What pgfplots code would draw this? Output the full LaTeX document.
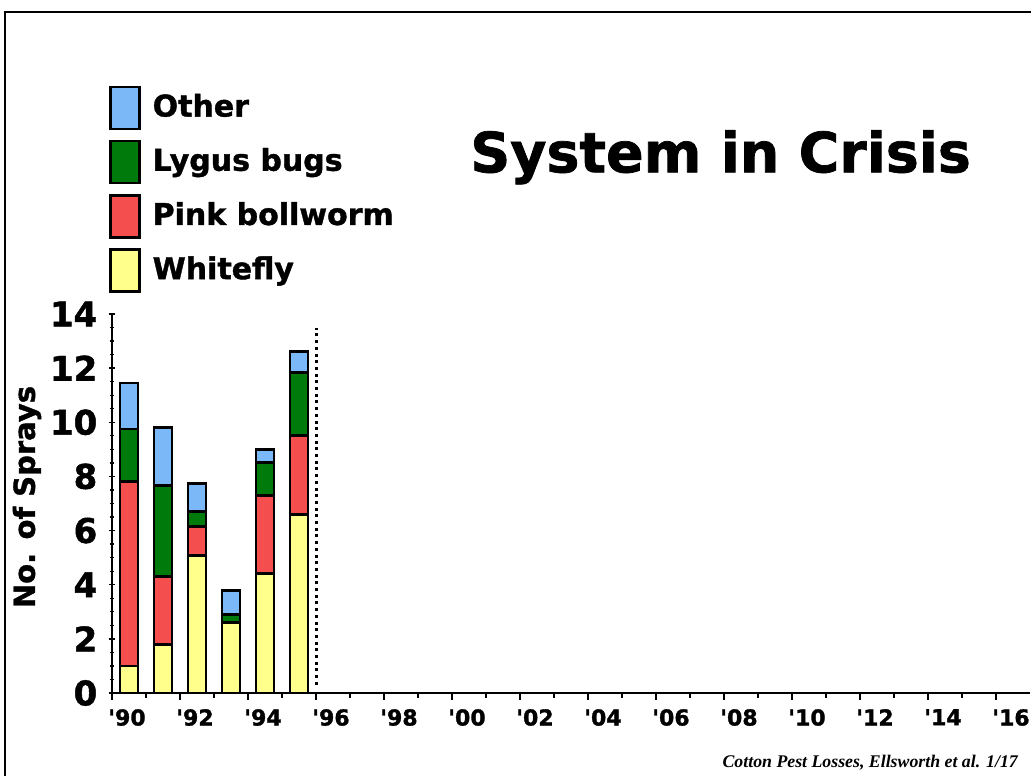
\documentclass[border=0pt]{standalone}
\usepackage{pgfplots}
\pgfplotsset{compat=1.18}
\usepackage{fontspec}
\setmainfont{DejaVu Sans}[BoldFeatures={FakeBold=1.3}]
\newfontfamily\footfont{Liberation Serif}
\definecolor{cother}{RGB}{122,184,248}
\definecolor{clygus}{RGB}{0,122,10}
\definecolor{cpink}{RGB}{244,78,78}
\definecolor{cwhite}{RGB}{255,255,140}
\pgfplotsset{
  legimg/.style={legend image code/.code={\draw[##1, line width=2.5pt, draw=black] (0pt,-23pt) rectangle (29pt,19pt);}},
}
\begin{document}
\begin{tikzpicture}[x=1pt,y=1pt]
\useasboundingbox (0,0) rectangle (1031,776);
\draw[line width=2pt] (1035,764) -- (5,764) -- (5,-5);
\begin{axis}[
  at={(112pt,83pt)}, anchor=south west,
  scale only axis, width=918pt, height=379pt,
  xmin=1990, xmax=2017, ymin=0, ymax=14,
  axis lines*=left, axis line style={line width=2.6pt},
  ybar stacked, bar width=18pt,
  xtick={1990,1992,...,2016},
  xticklabels={\textquotesingle 90,\textquotesingle 92,\textquotesingle 94,\textquotesingle 96,\textquotesingle 98,\textquotesingle 00,\textquotesingle 02,\textquotesingle 04,\textquotesingle 06,\textquotesingle 08,\textquotesingle 10,\textquotesingle 12,\textquotesingle 14,\textquotesingle 16},
  minor xtick={1991,1993,...,2015},
  ytick={0,2,...,14},
  minor ytick={0.5,1,1.5,2.5,3,3.5,4.5,5,5.5,6.5,7,7.5,8.5,9,9.5,10.5,11,11.5,12.5,13,13.5},
  xtick align=outside, ytick align=center,
  major tick length=7pt, minor tick length=5pt,
  every tick/.style={black, line width=1.3pt},
  /pgf/number format/assume math mode=true,
  xticklabel style={font=\fontsize{22}{22}\selectfont\bfseries, xshift=15pt, inner sep=0pt, yshift=-9pt},
  yticklabel style={font=\fontsize{34}{34}\selectfont\bfseries, inner sep=0pt, xshift=-11pt},
  ylabel={No. of Sprays},
  every axis y label/.style={at={(axis description cs:-0.0926,0.517)}, rotate=90, anchor=center, font=\fontsize{29}{29}\selectfont\bfseries, inner sep=0pt},
  title={System in Crisis},
  title style={at={(axis description cs:0.663,1.358)}, anchor=base, font=\fontsize{55.5}{55.5}\selectfont\bfseries, inner sep=0pt},
  legend style={at={(axis description cs:-0.0033,1.603)}, anchor=north west, draw=none, fill=none, inner sep=0pt, row sep=9.7pt, font=\fontsize{30}{30}\selectfont\bfseries, nodes={inner sep=0pt}, /tikz/every odd column/.append style={column sep=12pt}},
  legend cell align=left,
  reverse legend,
]
\addplot[fill=cwhite, draw=black, line width=2.8pt, legimg] coordinates {(1990.5,1.0) (1991.5,1.8) (1992.5,5.07) (1993.5,2.6) (1994.5,4.4) (1995.5,6.6)};
\addlegendentry{Whitefly}
\addplot[fill=cpink, draw=black, line width=2.8pt, legimg] coordinates {(1990.5,6.8) (1991.5,2.5) (1992.5,1.07) (1993.5,0) (1994.5,2.9) (1995.5,2.9)};
\addlegendentry{Pink bollworm}
\addplot[fill=clygus, draw=black, line width=2.8pt, legimg] coordinates {(1990.5,1.95) (1991.5,3.35) (1992.5,0.57) (1993.5,0.3) (1994.5,1.2) (1995.5,2.35)};
\addlegendentry{Lygus bugs}
\addplot[fill=cother, draw=black, line width=2.8pt, legimg] coordinates {(1990.5,1.7) (1991.5,2.15) (1992.5,1.02) (1993.5,0.9) (1994.5,0.5) (1995.5,0.75)};
\addlegendentry{Other}
\end{axis}
\begin{axis}[
  at={(112pt,83pt)}, anchor=south west,
  scale only axis, width=918pt, height=379pt,
  xmin=1990, xmax=2017, ymin=0, ymax=14,
  hide axis,
]
\addplot[black, line width=3pt, dash pattern=on 3pt off 3.7pt] coordinates {(1996,0.3) (1996,13.48)};
\end{axis}
\node[anchor=base east, inner sep=0pt, font=\footfont\bfseries\itshape\fontsize{17.8}{17.8}\selectfont] at (1018,8) {Cotton Pest Losses, Ellsworth et al. 1/17};
\end{tikzpicture}
\end{document}
